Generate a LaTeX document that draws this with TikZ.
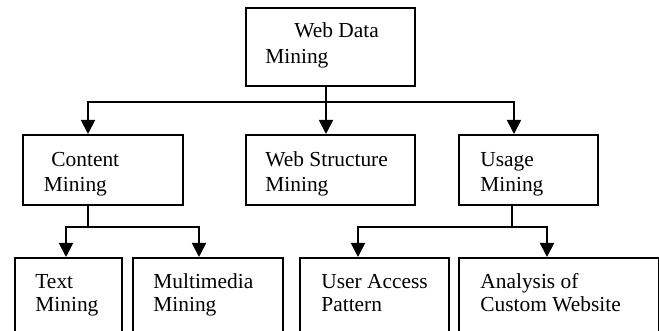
\documentclass[tikz,border=0pt]{standalone}
\usepackage{fontspec}
\setmainfont{Liberation Serif}
\usetikzlibrary{arrows.meta}
\begin{document}
\begin{tikzpicture}[x=0.5pt,y=-0.5pt,
  box/.style={draw, line width=0.9pt, inner sep=0pt, anchor=north west},
  lbl/.style={anchor=base west, inner sep=0pt, font=\fontsize{10.7}{12.5}\selectfont},
  conn/.style={line width=0.9pt},
  arr/.style={conn, -{Triangle[length=7pt,width=7pt]}}]
\useasboundingbox (0,0) rectangle (659,331);
\clip (0,0) rectangle (659,331);
% boxes
\node[box, minimum width=84.5pt, minimum height=39pt] (top) at (245,7) {};
\node[box, minimum width=80pt, minimum height=35pt] (content) at (22,134) {};
\node[box, minimum width=84.5pt, minimum height=35pt] (webs) at (245,134) {};
\node[box, minimum width=69.5pt, minimum height=35pt] (usage) at (458,134) {};
\node[box, minimum width=53.5pt, minimum height=45pt] (textm) at (14,257) {};
\node[box, minimum width=75pt, minimum height=45pt] (multi) at (132,257) {};
\node[box, minimum width=74.5pt, minimum height=45pt] (user) at (299,257) {};
\node[box, minimum width=99.75pt, minimum height=45pt] (anal) at (458,257) {};
% labels
\node[lbl] (t1) at (294,38) {Web Data};
\node[lbl] (t2) at (265,64) {Mining};
\node[lbl] (t3) at (51,167) {Content};
\node[lbl] (t4) at (43.5,192) {Mining};
\node[lbl] (t5) at (265,167) {Web Structure};
\node[lbl] (t6) at (265,192) {Mining};
\node[lbl] (t7) at (480,167) {Usage};
\node[lbl] (t8) at (480,192) {Mining};
\node[lbl] (t9) at (35,289) {Text};
\node[lbl] (t10) at (35,312) {Mining};
\node[lbl] (t11) at (153,289) {Multimedia};
\node[lbl] (t12) at (153,312) {Mining};
\node[lbl] (t13) at (321,289) {User Access};
\node[lbl] (t14) at (321,312) {Pattern};
\node[lbl] (t15) at (480,289) {Analysis of};
\node[lbl] (t16) at (480,312) {Custom Website};
% connectors level 1
\coordinate (j1) at (326,102);
\coordinate (a1) at (88,134);
\coordinate (a2) at (326,134);
\coordinate (a3) at (514,134);
\draw[conn] (top.south -| j1) -- (j1);
\draw[arr] (j1) -| (a1);
\draw[arr] (j1) -- (a2);
\draw[arr] (j1) -| (a3);
% connectors level 2 (content)
\coordinate (j2) at (88,227);
\coordinate (a4) at (66,257);
\coordinate (a5) at (199,257);
\draw[conn] (content.south -| j2) -- (j2);
\draw[arr] (j2) -| (a4);
\draw[arr] (j2) -| (a5);
% connectors level 2 (usage)
\coordinate (j3) at (512,227);
\coordinate (a6) at (358,257);
\coordinate (a7) at (547,257);
\draw[conn] (usage.south -| j3) -- (j3);
\draw[arr] (j3) -| (a6);
\draw[arr] (j3) -| (a7);
\end{tikzpicture}
\end{document}
